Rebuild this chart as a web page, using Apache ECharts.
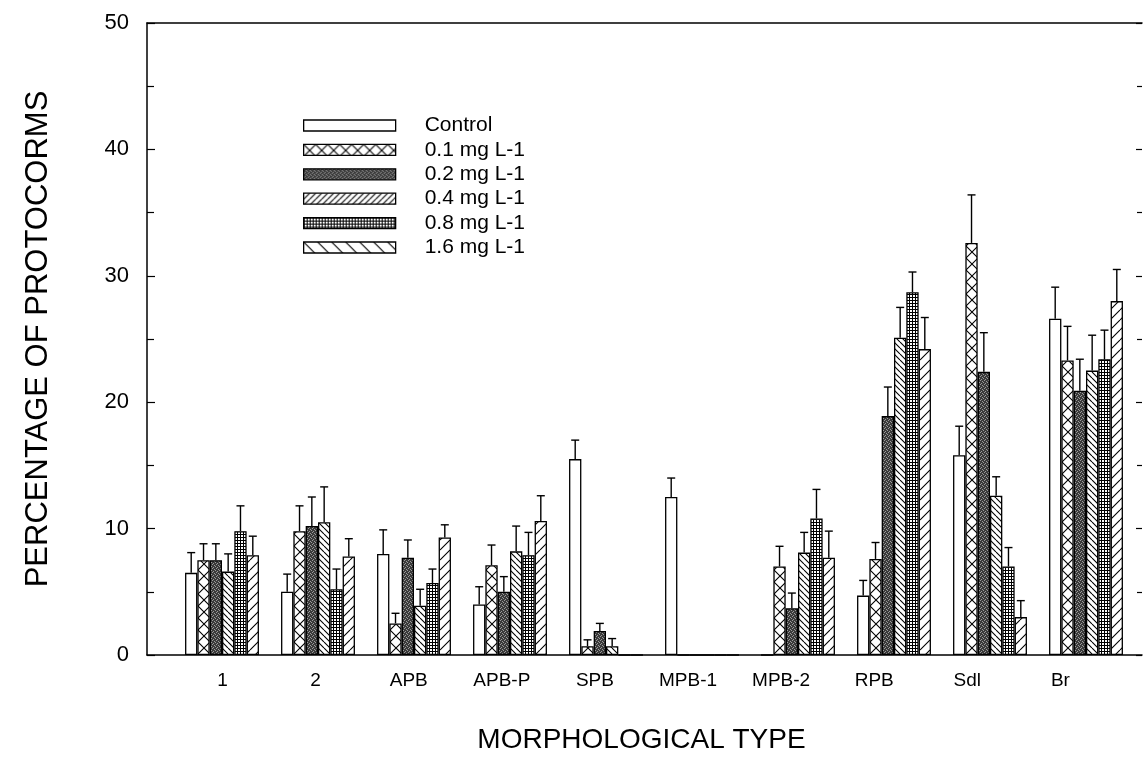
<!DOCTYPE html>
<html>
<head>
<meta charset="utf-8">
<script src="https://cdn.jsdelivr.net/npm/echarts@6/dist/echarts.min.js"></script>
<style>
  html, body { margin: 0; padding: 0; background: #fff; }
  #chart { width: 1144px; height: 759px; }
</style>
</head>
<body>
<div id="chart"></div>
<script>
// Morphological type of protocorms by treatment concentration (mean + SE)
const categories = ['1', '2', 'APB', 'APB-P', 'SPB', 'MPB-1', 'MPB-2', 'RPB', 'Sdl', 'Br'];
const seriesNames = ['Control', '0.1 mg L-1', '0.2 mg L-1', '0.4 mg L-1', '0.8 mg L-1', '1.6 mg L-1'];

const control    = [6.5, 5.0, 8.0, 4.0, 15.5, 12.5, 0,    4.7, 15.8, 26.6];
const controlSE  = [1.6, 1.4, 1.9, 1.4, 1.5,  1.5,  0,    1.2, 2.3,  2.5];
const conc01     = [7.5, 9.8, 2.5, 7.1, 0.7,  0,    7.0,  7.6, 32.6, 23.3];
const conc01SE   = [1.3, 2.0, 0.8, 1.6, 0.5,  0,    1.6,  1.3, 3.8,  2.7];
const conc02     = [7.5, 10.2, 7.7, 5.0, 1.9, 0,    3.7, 18.9, 22.4, 20.9];
const conc02SE   = [1.3, 2.3, 1.4, 1.2, 0.6,  0,    1.2,  2.3, 3.1,  2.5];
const conc04     = [6.6, 10.5, 3.9, 8.2, 0.7, 0,    8.1, 25.1, 12.6, 22.5];
const conc04SE   = [1.4, 2.8, 1.3, 2.0, 0.6,  0,    1.6,  2.4, 1.5,  2.8];
const conc08     = [9.8, 5.2, 5.7, 7.9, 0,    0,   10.8, 28.7, 7.0,  23.4];
const conc08SE   = [2.0, 1.6, 1.1, 1.8, 0,    0,    2.3,  1.6, 1.5,  2.3];
const conc16     = [7.9, 7.8, 9.3, 10.6, 0,   0,    7.7, 24.2, 3.0,  28.0];
const conc16SE   = [1.5, 1.4, 1.0, 2.0, 0,    0,    2.1,  2.5, 1.3,  2.5];

const means = [control, conc01, conc02, conc04, conc08, conc16];
const errors = [controlSE, conc01SE, conc02SE, conc04SE, conc08SE, conc16SE];

const yMin = 0, yMax = 50, yStep = 10;

const FONT = 'Liberation Sans, Arial, Helvetica, sans-serif';
const CATEGORY_GAP = 0.23;

// Small repeating fill tiles drawn on canvases
function tile(w, h, draw) {
  const c = document.createElement('canvas');
  c.width = w; c.height = h;
  const g = c.getContext('2d');
  g.fillStyle = '#fff';
  g.fillRect(0, 0, w, h);
  g.strokeStyle = '#000';
  g.fillStyle = '#000';
  g.lineWidth = 1;
  draw(g, w, h);
  return { image: c, repeat: 'repeat' };
}
function hatch(size, forward, lw) {
  return tile(size, size, (g, w, h) => {
    g.lineWidth = lw;
    g.beginPath();
    for (const k of [-w, 0, w]) {
      if (forward) { g.moveTo(k, h); g.lineTo(k + w, 0); }
      else { g.moveTo(k, 0); g.lineTo(k + w, h); }
    }
    g.stroke();
  });
}
const fillWhite = '#fff';
const fillCross = tile(12, 12, (g, w, h) => {
  g.lineWidth = 1.1;
  g.beginPath();
  g.moveTo(0, 0); g.lineTo(w, h);
  g.moveTo(w, 0); g.lineTo(0, h);
  g.stroke();
});
const fillDark = tile(4, 4, (g) => {
  g.fillStyle = '#3a3a3a';
  g.fillRect(0, 0, 4, 4);
  g.fillStyle = '#9a9a9a';
  g.fillRect(0, 0, 1, 1);
  g.fillRect(2, 1, 1, 1);
  g.fillRect(1, 3, 1, 1);
  g.fillRect(3, 2, 1, 1);
});
const fillDots = tile(3, 3, (g) => {
  g.fillStyle = '#000';
  g.fillRect(0, 0, 3, 3);
  g.fillStyle = '#fff';
  g.fillRect(1, 1, 2, 2);
});
const fillBackDense = hatch(6, false, 1.1);
const fillFwdSparse = hatch(10, true, 1.1);
const fillFwdDense = hatch(6, true, 1.1);
const fillBackSparse = hatch(14, false, 1.1);

const barFills = [fillWhite, fillCross, fillDark, fillBackDense, fillDots, fillFwdSparse];
const legendFills = [fillWhite, fillCross, fillDark, fillFwdDense, fillDots, fillBackSparse];

// Upward error whisker with a short cap, centred on each bar of the group
function errorRenderer(k) {
  return function (params, api) {
    const i = api.value(0), v = api.value(1), e = api.value(2);
    if (!e) return null;
    const base = api.coord([i, v]);
    const top = api.coord([i, v + e]);
    const band = api.size([1, 0])[0];
    const bw = band * (1 - CATEGORY_GAP) / seriesNames.length;
    const x = base[0] + (k - (seriesNames.length - 1) / 2) * bw;
    const style = { stroke: '#000', lineWidth: 1.4 };
    return {
      type: 'group',
      children: [
        { type: 'line', shape: { x1: x, y1: base[1], x2: x, y2: top[1] }, style },
        { type: 'line', shape: { x1: x - 4, y1: top[1], x2: x + 4, y2: top[1] }, style }
      ]
    };
  };
}

const series = [];
seriesNames.forEach((name, k) => {
  series.push({
    name,
    type: 'bar',
    xAxisIndex: 2,
    yAxisIndex: 2,
    data: means[k],
    barGap: '0%',
    barCategoryGap: (CATEGORY_GAP * 100) + '%',
    itemStyle: { color: barFills[k], borderColor: '#000', borderWidth: 1.3 },
    emphasis: { disabled: true },
    z: 2
  });
});
seriesNames.forEach((name, k) => {
  series.push({
    name: name + ' SE',
    type: 'custom',
    xAxisIndex: 2,
    yAxisIndex: 2,
    renderItem: errorRenderer(k),
    data: means[k].map((v, i) => [i, v, errors[k][i]]),
    z: 3,
    silent: true
  });
});

const gridTop = 23, gridBottom = 104;

const option = {
  backgroundColor: '#fff',
  animation: false,
  textStyle: { fontFamily: FONT, color: '#000' },
  grid: [
    { left: 147, right: 2, top: gridTop, bottom: gridBottom },   // frame and y scale
    { left: 174, right: 10, top: gridTop, bottom: gridBottom },  // bar groups
    { left: 176, right: 37, top: gridTop, bottom: gridBottom }   // category labels
  ],
  legend: {
    orient: 'vertical',
    left: 303,
    top: 115,
    itemWidth: 92,
    itemHeight: 11,
    itemGap: 3.4,
    padding: 0,
    selectedMode: false,
    icon: 'rect',
    textStyle: { fontFamily: FONT, fontSize: 21, color: '#000', padding: [0, 0, 0, 24] },
    data: seriesNames.map((name, k) => ({
      name,
      itemStyle: { color: legendFills[k], borderColor: '#000', borderWidth: 1.3 }
    }))
  },
  xAxis: [
    {
      gridIndex: 0, type: 'category', data: categories, position: 'bottom',
      axisLine: { onZero: false, lineStyle: { color: '#000', width: 1.5 } },
      axisTick: { show: false }, axisLabel: { show: false }, splitLine: { show: false }
    },
    {
      gridIndex: 0, type: 'category', data: categories, position: 'top',
      axisLine: { onZero: false, lineStyle: { color: '#000', width: 1.5 } },
      axisTick: { show: false }, axisLabel: { show: false }, splitLine: { show: false }
    },
    { gridIndex: 1, type: 'category', data: categories, show: false },
    {
      gridIndex: 2, type: 'category', data: categories, position: 'bottom',
      axisLine: { show: false, onZero: false }, axisTick: { show: false }, splitLine: { show: false },
      axisLabel: { fontFamily: FONT, fontSize: 19, color: '#000', margin: 24 },
      name: 'MORPHOLOGICAL TYPE',
      nameLocation: 'middle',
      nameGap: 79,
      nameTextStyle: { fontFamily: FONT, fontSize: 28, color: '#000' }
    }
  ],
  yAxis: [
    {
      gridIndex: 0, type: 'value', min: yMin, max: yMax, interval: yStep, position: 'left',
      axisLine: { show: true, lineStyle: { color: '#000', width: 1.5 } },
      axisTick: { show: true, inside: true, length: 8, lineStyle: { color: '#000', width: 1.2 } },
      minorTick: { show: true, splitNumber: 2, length: 7, lineStyle: { color: '#000', width: 1.2 } },
      splitLine: { show: false },
      axisLabel: { fontFamily: FONT, fontSize: 22, color: '#000', margin: 18 },
      name: 'PERCENTAGE OF PROTOCORMS',
      nameLocation: 'middle',
      nameGap: 93,
      nameTextStyle: { fontFamily: FONT, fontSize: 31, color: '#000' }
    },
    {
      gridIndex: 0, type: 'value', min: yMin, max: yMax, interval: yStep, position: 'right',
      axisLine: { show: false },
      axisTick: { show: true, inside: true, length: 6, lineStyle: { color: '#000', width: 1.2 } },
      minorTick: { show: true, splitNumber: 2, length: 5, lineStyle: { color: '#000', width: 1.2 } },
      splitLine: { show: false },
      axisLabel: { show: false }
    },
    { gridIndex: 1, type: 'value', min: yMin, max: yMax, show: false, splitLine: { show: false } },
    { gridIndex: 2, type: 'value', min: yMin, max: yMax, show: false, splitLine: { show: false } }
  ],
  series
};

const chart = echarts.init(document.getElementById('chart'), null, { renderer: 'canvas' });
chart.setOption(option);
</script>
</body>
</html>
